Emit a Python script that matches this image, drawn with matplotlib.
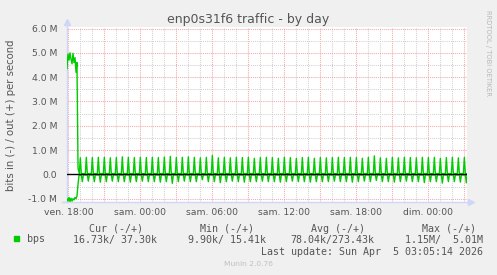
import numpy as np
import matplotlib
matplotlib.use('Agg')
import matplotlib.pyplot as plt

# hours since Friday 00:00
x_range = [17.89, 51.22]
x_ticks = [18, 24, 30, 36, 42, 48]
x_labels = ['ven. 18:00', 'sam. 00:00', 'sam. 06:00', 'sam. 12:00', 'sam. 18:00', 'dim. 00:00']
y_ticks = [-1e6, 0, 1e6, 2e6, 3e6, 4e6, 5e6, 6e6]
y_labels = ['-1.0 M', '0.0', '1.0 M', '2.0 M', '3.0 M', '4.0 M', '5.0 M', '6.0 M']

# start of the day: heavy traffic (values in M bits/s)
start_t = [17.89, 17.97, 18.06, 18.14, 18.22, 18.31, 18.39, 18.47, 18.56, 18.64, 18.72, 18.81, 18.89]
start_out = [4.35, 4.95, 4.70, 5.00, 4.75, 4.55, 4.98, 4.60, 4.80, 4.20, 4.60, 0.25, 0.08]
start_in = [1.00, 1.10, 0.95, 1.12, 0.98, 1.10, 1.00, 1.05, 0.95, 1.00, 0.90, 0.40, 0.05]

# half-hourly bursts afterwards, from 19:00 on
burst_start = 19.0
out_peaks = [0.68, 0.70, 0.69, 0.70, 0.70, 0.68, 0.69, 0.72, 0.70, 0.69, 0.70, 0.69, 0.70,
             0.69, 0.71, 0.74, 0.69, 0.70, 0.72, 0.70, 0.68, 0.70, 0.78, 0.68, 0.70, 0.68,
             0.70, 0.69, 0.70, 0.66, 0.69, 0.70, 0.69, 0.66, 0.70, 0.69, 0.66, 0.69, 0.70,
             0.66, 0.69, 0.68, 0.69, 0.70, 0.69, 0.70, 0.69, 0.66, 0.70, 0.76, 0.68, 0.66,
             0.70, 0.68, 0.70, 0.69, 0.68, 0.70, 0.69, 0.70, 0.66, 0.69, 0.70, 0.68, 0.70]
in_dips = [0.30, 0.28, 0.30, 0.32, 0.30, 0.28, 0.30, 0.30, 0.32, 0.30, 0.28, 0.30, 0.30,
           0.32, 0.30, 0.37, 0.30, 0.28, 0.30, 0.30, 0.22, 0.30, 0.30, 0.34, 0.30, 0.28,
           0.30, 0.32, 0.30, 0.30, 0.28, 0.30, 0.30, 0.32, 0.30, 0.28, 0.30, 0.30, 0.32,
           0.30, 0.30, 0.30, 0.28, 0.30, 0.30, 0.32, 0.30, 0.28, 0.30, 0.25, 0.30, 0.30,
           0.32, 0.30, 0.28, 0.30, 0.30, 0.34, 0.30, 0.30, 0.36, 0.30, 0.30, 0.32, 0.35]
out_base = 0.03
in_base = 0.025

legend_head = ['Cur (-/+)', 'Min (-/+)', 'Avg (-/+)', 'Max (-/+)']
legend_vals = ['16.73k/ 37.30k', '9.90k/ 15.41k', '78.04k/273.43k', '1.15M/  5.01M']

step = 5 / 60.0  # 5 minute samples
out_t, out_v = list(start_t), list(start_out)
in_t, in_v = list(start_t), [-v for v in start_in]
for k in range(len(out_peaks)):
    t = burst_start + 0.5 * k
    out_t += [t - step, t, t + step]
    out_v += [out_base, out_peaks[k], out_base]
    in_t += [t + step, t + 2 * step, t + 3 * step]
    in_v += [-in_base, -in_dips[k], -in_base]
out_t.append(x_range[1]); out_v.append(out_base)
in_t.append(x_range[1]); in_v.append(-in_base)

W, H = 497, 275
fig = plt.figure(figsize=(W / 100, H / 100), dpi=100, facecolor='#F0F0F0')
ax = fig.add_axes([67 / W, (H - 202.3) / H, 400 / W, 175 / H])
ax.set_facecolor('white')

green = '#00CC00'
ax.plot(out_t, np.array(out_v) * 1e6, color=green, lw=1.0, zorder=3)
ax.plot(in_t, np.array(in_v) * 1e6, color=green, lw=1.0, zorder=3)
ax.axhline(0, color='black', lw=1.0, zorder=4)

ax.set_xlim(x_range)
ax.set_ylim(-1.15e6, 6.05e6)

major = '#F4A8A8'
minor = '#D2D2D2'
ax.set_xticks(x_ticks)
ax.set_xticklabels(x_labels)
ax.set_yticks(y_ticks)
ax.set_yticklabels(y_labels)

for v in np.arange(18, 52, 1):
    c = major if v % 3 == 0 else minor
    ax.axvline(v, color=c, lw=0.75, ls=(0, (1, 1)), zorder=1)
for v in np.arange(-1e6, 6.1e6, 0.5e6):
    c = major if v % 1e6 == 0 else minor
    ax.axhline(v, color=c, lw=0.75, ls=(0, (1, 1)), zorder=1)

ax.tick_params(which='both', length=0, labelsize=6.7, labelcolor='#555555')
ax.tick_params(axis='y', pad=7)
ax.tick_params(axis='x', pad=4)

for s in ['top', 'right', 'left', 'bottom']:
    ax.spines[s].set_visible(False)
axis_c = '#CFD6F8'
ax.plot([-0.012, 1.005], [0, 0], transform=ax.transAxes, color=axis_c, lw=1, clip_on=False)
ax.plot([0, 0], [0, 1.02], transform=ax.transAxes, color=axis_c, lw=1, clip_on=False)
ax.plot([1.01], [0], transform=ax.transAxes, marker='>', ms=5, color=axis_c, clip_on=False)
ax.plot([0], [1.03], transform=ax.transAxes, marker='^', ms=5, color=axis_c, clip_on=False)

fig.text(248.5 / W, 1 - 19 / H, 'enp0s31f6 traffic - by day', ha='center', va='center',
         fontsize=9, color='#555555')
fig.text(11 / W, 1 - 115 / H, 'bits in (-) / out (+) per second', rotation=90,
         ha='center', va='center', fontsize=7.3, color='#555555')
fig.text(488 / W, 1 - 53 / H, 'RRDTOOL / TOBI OETIKER', rotation=-90,
         ha='center', va='center', fontsize=4.9, color='#B8B8B8')

mono = 'DejaVu Sans Mono'
head_right = [142.7, 253.7, 365, 476]
val_right = [157.3, 266, 374.7, 482.7]
for h, x in zip(legend_head, head_right):
    fig.text(x / W, 1 - 228.5 / H, h, ha='right', va='center', family=mono, fontsize=7.2,
             color='#555555')
for v, x in zip(legend_vals, val_right):
    fig.text(x / W, 1 - 239.5 / H, v, ha='right', va='center', family=mono, fontsize=7.2,
             color='#555555')
fig.patches.append(matplotlib.patches.Rectangle((14 / W, 1 - 241 / H), 5.3 / W, 5 / H,
                   transform=fig.transFigure, color=green))
fig.text(26.7 / W, 1 - 239.5 / H, 'bps', ha='left', va='center', family=mono, fontsize=7.2,
         color='#555555')
fig.text(482.7 / W, 1 - 251.7 / H, 'Last update: Sun Apr  5 03:05:14 2026', ha='right',
         va='center', family=mono, fontsize=7.2, color='#555555')
fig.text(248 / W, 1 - 264 / H, 'Munin 2.0.76', ha='center', va='center', fontsize=5.4,
         color='#C0C0C0')

plt.savefig('out.png', dpi=100, facecolor=fig.get_facecolor())
